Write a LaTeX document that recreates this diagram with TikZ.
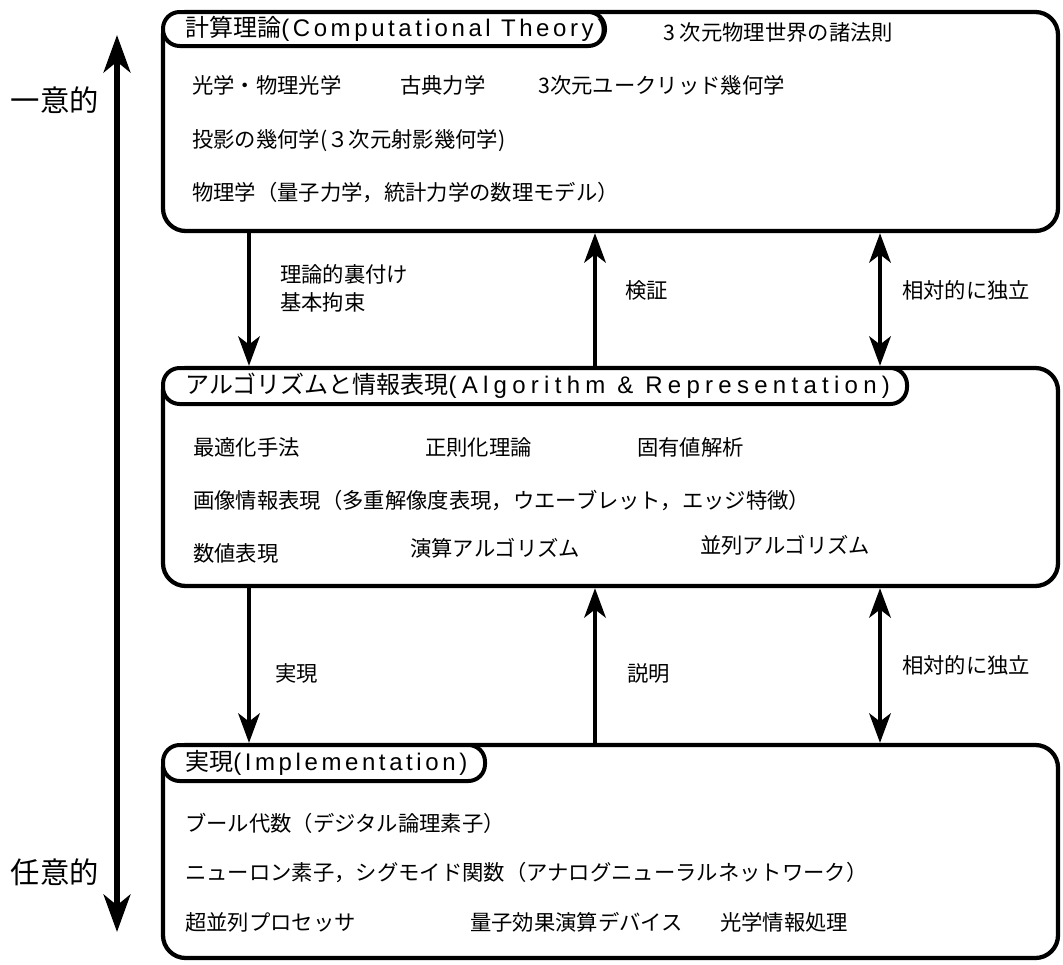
\documentclass[tikz,border=0pt]{standalone}
\usepackage{fontspec}
\setmainfont{Noto Sans CJK JP}
\newfontfamily\latin[LetterSpace=15]{Liberation Sans}
\newfontfamily\latinw[LetterSpace=22]{Liberation Sans}
\usetikzlibrary{arrows.meta,fit}
\begin{document}
\begin{tikzpicture}[x=0.75pt,y=-0.75pt,
  box/.style={draw,line width=3.2pt,rounded corners=17pt,inner sep=0pt},
  tab/.style={draw,fill=white,line width=3pt,rounded corners=12.5pt,inner sep=0pt},
  ttl/.style={anchor=west,inner sep=0pt,font=\fontsize{18}{20}\selectfont},
  txt/.style={anchor=west,inner sep=0pt,font=\fontsize{16}{18}\selectfont},
  lbl/.style={anchor=west,inner sep=0pt,font=\fontsize{16}{21}\selectfont,align=left},
  big/.style={inner sep=0pt,font=\fontsize{22}{24}\selectfont},
  arr/.style={line width=3.6pt,-{Stealth[length=22pt 0 0,width=16pt 0 0,inset=6pt 0]}},
  darr/.style={line width=3.6pt,{Stealth[length=22pt 0 0,width=16pt 0 0,inset=6pt 0]}-{Stealth[length=22pt 0 0,width=16pt 0 0,inset=6pt 0]}},
  bigarr/.style={line width=4.6pt,{Stealth[length=28pt 0 0,width=20pt 0 0,inset=8pt 0]}-{Stealth[length=28pt 0 0,width=20pt 0 0,inset=8pt 0]}},
]
\useasboundingbox (0,0) rectangle (1063,964);

% boxes
\node[box,fit={(163,12) (1058,231)}] (b1) {};
\node[box,fit={(163,368) (1058,586)}] (b2) {};
\node[box,fit={(163,745) (1058,958)}] (b3) {};

% tabs
\node[tab,fit={(163,12) (605,46)}] (t1) {};
\node[tab,fit={(163,368) (907,404)}] (t2) {};
\node[tab,fit={(163,745) (485,781)}] (t3) {};
\node[ttl] (tt1) at (185,29) {計算理論{\latin (Computational Theory)}};
\node[ttl] (tt2) at (185,386) {アルゴリズムと情報表現{\latinw (Algorithm \& Representation)}};
\node[ttl] (tt3) at (185,763) {実現{\latin (Implementation)}};

% box 1 contents
\node[txt] (p0) at (663,32) {3 次元物理世界の諸法則};
\node[txt] (p1) at (192,85) {光学・物理光学};
\node[txt] (p2) at (400,85) {古典力学};
\node[txt] (p3) at (538,85) {3次元ユークリッド幾何学};
\node[txt] (p4) at (192,141) {投影の幾何学(３次元射影幾何学)};
\node[txt] (p5) at (192,193) {物理学（量子力学，統計力学の数理モデル）};

% box 2 contents
\node[txt] (q1) at (193,447) {最適化手法};
\node[txt] (q2) at (425,447) {正則化理論};
\node[txt] (q3) at (637,447) {固有値解析};
\node[txt] (q4) at (193,500) {画像情報表現（多重解像度表現，ウエーブレット，エッジ特徴）};
\node[txt] (q5) at (193,553) {数値表現};
\node[txt] (q6) at (410,548) {演算アルゴリズム};
\node[txt] (q7) at (700,545) {並列アルゴリズム};

% box 3 contents
\node[txt] (r1) at (185,823) {ブール代数（デジタル論理素子）};
\node[txt] (r2) at (185,872) {ニューロン素子，シグモイド関数（アナログニューラルネットワーク）};
\node[txt] (r3) at (185,922) {超並列プロセッサ};
\node[txt] (r4) at (470,922) {量子効果演算デバイス};
\node[txt] (r5) at (720,922) {光学情報処理};

% arrows between boxes
\coordinate (xa) at (249,0);
\coordinate (xb) at (595,0);
\coordinate (xc) at (880,0);
\draw[arr] (b1.south -| xa) -- (b2.north -| xa);
\draw[arr] (b2.north -| xb) -- (b1.south -| xb);
\draw[darr] (b1.south -| xc) -- (b2.north -| xc);
\draw[arr] (b2.south -| xa) -- (b3.north -| xa);
\draw[arr] (b3.north -| xb) -- (b2.south -| xb);
\draw[darr] (b2.south -| xc) -- (b3.north -| xc);

\node[lbl] (m1) at (280,288) {理論的裏付け\\基本拘束};
\node[lbl] (m2) at (625,290) {検証};
\node[lbl] (m3) at (902,290) {相対的に独立};
\node[lbl] (m4) at (275,673) {実現};
\node[lbl] (m5) at (627,673) {説明};
\node[lbl] (m6) at (902,665) {相対的に独立};

% left axis
\coordinate (vt) at (117,35);
\coordinate (vb) at (117,932);
\draw[bigarr] (vb) -- (vt);
\node[big] (u1) at (55,100) {一意的};
\node[big] (u2) at (55,872) {任意的};
\end{tikzpicture}
\end{document}
